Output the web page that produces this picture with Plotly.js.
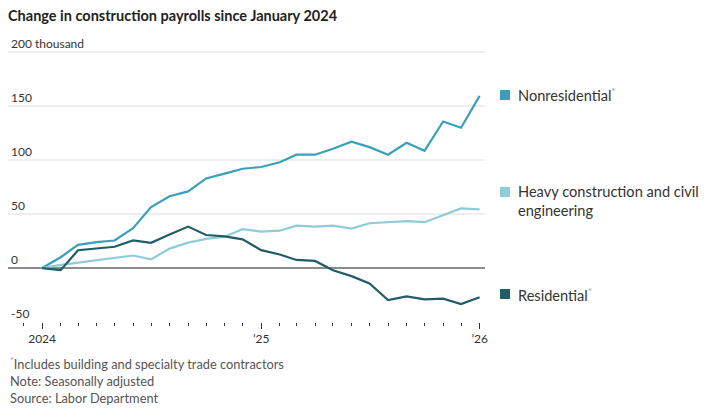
<!DOCTYPE html>
<html>
<head>
<meta charset="utf-8">
<script src="https://cdn.plot.ly/plotly-3.0.1.min.js"></script>
<style>
html,body{margin:0;padding:0;background:#fff;}
#chart{width:706px;height:418px;}
</style>
</head>
<body>
<div id="chart"></div>
<script>
// ---- data ----
const months = [
  '2024-01-01','2024-02-01','2024-03-01','2024-04-01','2024-05-01','2024-06-01',
  '2024-07-01','2024-08-01','2024-09-01','2024-10-01','2024-11-01','2024-12-01',
  '2025-01-01','2025-02-01','2025-03-01','2025-04-01','2025-05-01','2025-06-01',
  '2025-07-01','2025-08-01','2025-09-01','2025-10-01','2025-11-01','2025-12-01',
  '2026-01-01'
];
const nonresidential = [0, 10, 21.5, 24, 25.5, 37, 56.5, 66.5, 71, 83, 87.5, 92,
  93.6, 98, 105, 105, 110.5, 117, 112, 105, 116, 108.6, 135.8, 130, 159.5];
const heavyCivil = [0, 3, 5, 7, 9, 11.6, 8, 18, 23.5, 27, 29, 36,
  33.7, 34.6, 39.3, 38.4, 39.3, 36.5, 41.5, 42.5, 43.4, 42.5, 49.3, 55.3, 54.3];
const residential = [0, -2, 16.5, 18, 19.7, 25.6, 23.4, 31, 38.4, 30.6, 29.4, 26.6,
  16.6, 12.5, 7.5, 6.6, -2, -7.5, -14.3, -29.6, -26.2, -29, -28.4, -33.4, -27];

const seriesNames = ['Nonresidential', 'Heavy construction and civil<br>engineering', 'Residential'];
const yTickVals = [-50, 0, 50, 100, 150, 200];
const yTickText = ['-50', '0', '50', '100', '150', '200 thousand'];
const xTickVals = ['2024-01-01', '2025-01-01', '2026-01-01'];
const xTickText = ['2024', '\u201925', '\u201926'];
const notes = [
  '<span style="color:#999"><sup>*</sup></span>Includes building and specialty trade contractors',
  'Note: Seasonally adjusted',
  'Source: Labor Department'
];

// ---- layout helpers (pixel -> paper) ----
const L = 8, R = 485, T = 36, B = 322;
const px = x => (x - L) / (R - L);
const py = y => (B - y) / (B - T);

const colors = ['#3a9fbb', '#8fcbd8', '#1f5e66'];
const FONT = 'Lato, "Noto Sans", sans-serif';

const traces = [nonresidential, heavyCivil, residential].map((vals, i) => ({
  type: 'scatter', mode: 'lines', x: months, y: vals,
  line: {color: colors[i], width: 2.2}, hoverinfo: 'skip', showlegend: false
}));

const legendY = [95, 201, 294];
const legendText = [
  seriesNames[0] + '<span style="color:#999"><sup>*</sup></span>',
  seriesNames[1],
  seriesNames[2] + '<span style="color:#999"><sup>*</sup></span>'
];
const legendSqY = [95, 192, 294];

const shapes = legendSqY.map((y, i) => ({
  type: 'rect', xref: 'paper', yref: 'paper',
  x0: px(500), x1: px(510), y0: py(y + 5), y1: py(y - 5),
  fillcolor: colors[i], line: {width: 0}
}));

const annotations = legendText.map((t, i) => ({
  xref: 'paper', yref: 'paper', x: px(516), y: py(legendY[i]),
  xanchor: 'left', yanchor: 'middle', align: 'left', showarrow: false,
  text: t, font: {family: FONT, size: 14.6, color: '#333'}
})).concat(notes.map((t, i) => ({
  xref: 'paper', yref: 'paper', x: px(8), y: py(363 + i * 17.5),
  xanchor: 'left', yanchor: 'middle', align: 'left', showarrow: false,
  text: t, font: {family: FONT, size: 12.8, color: '#555'}
})));

const layout = {
  width: 706, height: 418,
  margin: {l: L, r: 706 - R, t: T, b: 418 - B, pad: 0},
  paper_bgcolor: '#fff', plot_bgcolor: '#fff',
  title: {
    text: '<b>Change in construction payrolls since January 2024</b>',
    x: 8 / 706, xanchor: 'left', xref: 'container',
    y: 1 - 16 / 418, yanchor: 'middle', yref: 'container',
    font: {family: FONT, size: 14.5, color: '#222'}
  },
  xaxis: {
    type: 'date', range: ['2023-11-05', '2026-01-10'],
    tickvals: xTickVals, ticktext: xTickText,
    ticks: 'outside', ticklen: 6, tickwidth: 1, tickcolor: '#333',
    minor: {dtick: 'M1', tick0: '2024-01-01', ticks: 'outside', ticklen: 3, tickwidth: 1, tickcolor: '#333', showgrid: false},
    showgrid: false, zeroline: false, showline: false,
    tickfont: {family: FONT, size: 12, color: '#333'}, fixedrange: true
  },
  yaxis: {
    range: [-50, 215],
    tickmode: 'array',
    tickvals: yTickVals, ticktext: yTickText,
    ticklabelposition: 'inside top', ticklabeloverflow: 'allow', ticks: '',
    showgrid: true, gridcolor: '#eeeeee', gridwidth: 2,
    zeroline: true, zerolinecolor: '#8c8c8c', zerolinewidth: 2,
    showline: false,
    tickfont: {family: FONT, size: 12, color: '#333'}, fixedrange: true
  },
  shapes: shapes,
  annotations: annotations,
  showlegend: false
};

Plotly.newPlot('chart', traces, layout, {displayModeBar: false, staticPlot: true});
</script>
</body>
</html>
